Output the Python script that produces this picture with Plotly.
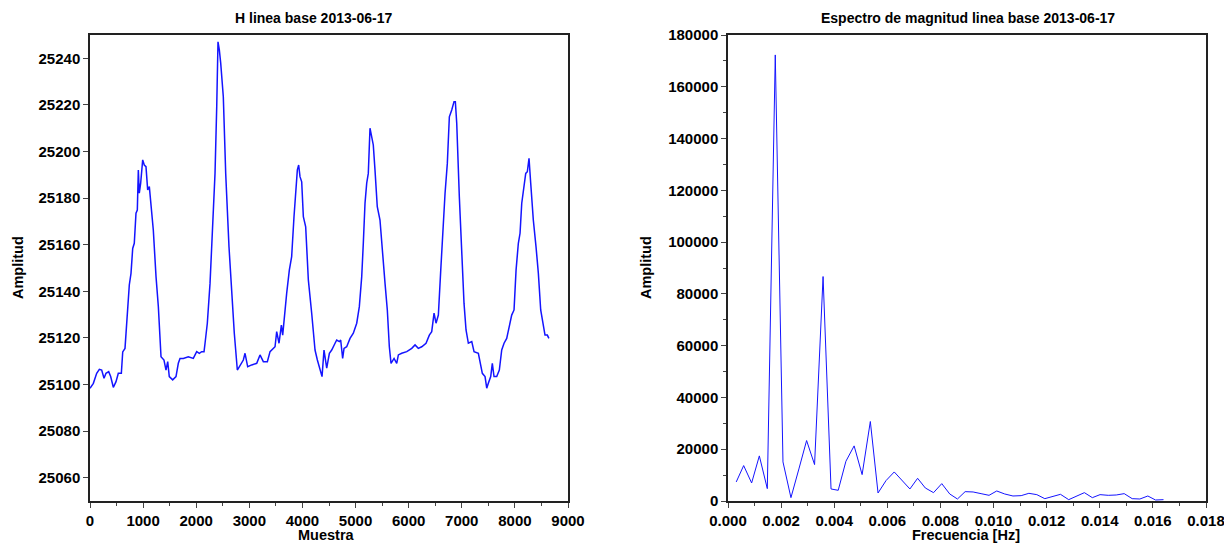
import plotly.graph_objects as go

# ---- Left panel: H baseline (sample vs amplitude) ----
muestra = [0, 63, 126, 176, 220, 264, 301, 352, 389, 439, 490, 533, 590, 616, 659, 691, 740, 772, 804, 834,
           866, 891, 910, 928, 954, 992, 1022, 1054, 1086, 1117, 1142, 1192, 1243, 1287, 1337, 1393, 1431, 1463,
           1493, 1557, 1619, 1663, 1695, 1757, 1851, 1945, 2009, 2058, 2103, 2147, 2166, 2209, 2260, 2310, 2354,
           2386, 2410, 2435, 2461, 2510, 2555, 2617, 2680, 2717, 2774, 2825, 2887, 2919, 2969, 3045, 3139, 3201,
           3264, 3339, 3390, 3484, 3515, 3559, 3603, 3628, 3659, 3703, 3753, 3797, 3841, 3879, 3904, 3929, 3954,
           3986, 4017, 4061, 4111, 4174, 4237, 4281, 4331, 4369, 4406, 4457, 4507, 4551, 4614, 4645, 4695, 4720,
           4757, 4783, 4833, 4896, 4958, 5022, 5071, 5116, 5146, 5178, 5210, 5240, 5272, 5304, 5334, 5366, 5409,
           5460, 5511, 5555, 5598, 5636, 5668, 5725, 5775, 5806, 5869, 5964, 6058, 6120, 6182, 6246, 6327, 6389,
           6434, 6478, 6515, 6559, 6604, 6642, 6685, 6728, 6766, 6811, 6854, 6879, 6905, 6954, 7004, 7042, 7080,
           7124, 7188, 7231, 7312, 7343, 7387, 7438, 7470, 7500, 7545, 7575, 7607, 7658, 7707, 7752, 7796, 7846,
           7896, 7940, 7984, 8022, 8065, 8097, 8129, 8172, 8204, 8234, 8266, 8298, 8347, 8398, 8442, 8486, 8524,
           8567, 8611, 8640]
amplitud_h = [25098.4, 25100.5, 25104.8, 25106.5, 25106.2, 25102.7, 25104.8, 25105.5, 25103.4, 25098.8, 25101.2,
              25104.8, 25104.8, 25114.0, 25115.5, 25127.7, 25142.7, 25147.7, 25158.4, 25160.6, 25173.5, 25174.9,
              25192.1, 25182.1, 25186.4, 25196.4, 25194.2, 25193.5, 25183.5, 25184.9, 25177.8, 25166.3, 25146.3,
              25133.4, 25111.9, 25110.5, 25106.2, 25109.8, 25103.4, 25102.0, 25103.4, 25109.1, 25111.2, 25111.2,
              25111.9, 25111.2, 25114.1, 25113.4, 25114.1, 25114.1, 25117.7, 25126.3, 25143.4, 25166.3, 25190.6,
              25219.2, 25247.1, 25243.6, 25237.9, 25223.5, 25190.6, 25159.1, 25133.4, 25122.0, 25106.2, 25108.4,
              25110.5, 25113.4, 25107.6, 25108.4, 25109.1, 25112.7, 25109.8, 25109.8, 25114.1, 25116.2, 25122.7,
              25117.7, 25125.5, 25121.2, 25129.8, 25139.1, 25149.1, 25154.9, 25172.0, 25183.5, 25192.1, 25194.2,
              25189.2, 25187.0, 25172.0, 25167.7, 25144.9, 25130.6, 25114.8, 25110.5, 25106.2, 25103.4, 25114.8,
              25107.0, 25113.4, 25114.8, 25117.7, 25119.1, 25118.4, 25119.1, 25111.2, 25115.5, 25116.2, 25119.8,
              25122.0, 25126.3, 25133.4, 25146.3, 25160.6, 25177.8, 25186.4, 25190.6, 25210.0, 25206.4, 25202.8,
              25192.1, 25176.3, 25170.6, 25157.7, 25143.4, 25132.0, 25116.2, 25109.1, 25111.2, 25109.1, 25112.7,
              25113.4, 25114.1, 25115.5, 25117.0, 25115.5, 25116.2, 25117.7, 25121.2, 25122.7, 25130.6, 25126.3,
              25129.8, 25149.1, 25166.3, 25182.1, 25194.9, 25214.9, 25217.8, 25221.4, 25221.4, 25212.1, 25180.6,
              25152.0, 25134.9, 25123.4, 25117.7, 25118.4, 25114.1, 25113.4, 25109.1, 25104.8, 25103.4, 25098.4,
              25100.5, 25103.4, 25109.1, 25103.4, 25103.4, 25106.2, 25114.8, 25117.7, 25119.8, 25124.8, 25129.8,
              25132.0, 25149.1, 25160.6, 25164.9, 25177.8, 25184.9, 25190.6, 25191.3, 25197.1, 25186.4, 25170.6,
              25159.1, 25147.7, 25132.0, 25126.3, 25121.2, 25121.2, 25119.8]

# ---- Right panel: magnitude spectrum ----
frecuencia = [0.00031, 0.00059, 0.00089, 0.00118, 0.00148, 0.00178, 0.00207, 0.00237, 0.00267, 0.00296,
              0.00326, 0.00358, 0.00388, 0.00415, 0.00444, 0.00475, 0.00505, 0.00536, 0.00565, 0.00595,
              0.00626, 0.00656, 0.00685, 0.00714, 0.00743, 0.00774, 0.00805, 0.00835, 0.00864, 0.00893,
              0.00923, 0.00953, 0.00983, 0.01012, 0.01042, 0.01073, 0.01104, 0.01133, 0.01163, 0.01193,
              0.01222, 0.01252, 0.01283, 0.01312, 0.01342, 0.01372, 0.01401, 0.01432, 0.01462, 0.01492,
              0.01522, 0.01551, 0.01581, 0.01610, 0.01640]
magnitud = [7355, 13677, 6968, 17419, 4774, 172300, 15097, 1290, 12387, 23355,
            14064, 86700, 4645, 4129, 15355, 21290, 10194, 30710, 3097, 7871,
            11226, 8000, 4645, 8774, 5032, 3226, 6710, 2710, 774, 3613,
            3484, 2839, 2194, 3871, 2710, 1935, 2065, 2968, 2452, 903,
            1806, 2581, 516, 1806, 3226, 1290, 2452, 2194, 2323, 2839,
            903, 774, 1935, 387, 516]

titulo_izq = "H linea base 2013-06-17"
titulo_der = "Espectro de magnitud linea base 2013-06-17"

# page body has an 8px margin at top/left; figure fills the rest of the 1232x549 window
OFF = 8
W, H = 1232 - OFF, 549 - OFF
FONT = "Liberation Sans, Arial, sans-serif"
BLUE = "rgb(20,20,255)"


def px(x):
    return (x - OFF) / W


def py(y):
    return 1 - (y - OFF) / H


fig = go.Figure()
fig.add_trace(go.Scatter(x=muestra, y=amplitud_h, mode="lines",
                         line=dict(color=BLUE, width=1.5), xaxis="x", yaxis="y", showlegend=False))
fig.add_trace(go.Scatter(x=frecuencia, y=magnitud, mode="lines",
                         line=dict(color=BLUE, width=1), xaxis="x2", yaxis="y2", showlegend=False))

ydom = [py(501), py(35)]
common = dict(showline=True, mirror=True, linecolor="#222", linewidth=1.5, ticks="outside",
              ticklen=5, tickwidth=1.3, tickcolor="#444", showgrid=False, zeroline=False,
              automargin=False,
              tickfont=dict(family=FONT, size=15, color="black", weight="bold"))

fig.update_layout(
    width=W, height=H, paper_bgcolor="white", plot_bgcolor="white",
    margin=dict(l=0, r=0, t=0, b=0),
    xaxis=dict(domain=[px(90), px(568)], range=[0, 9000], dtick=1000, tick0=0, anchor="y",
               tickformat="d",
               minor=dict(dtick=500, ticks="outside", ticklen=3, tickcolor="#444"), **common),
    yaxis=dict(domain=ydom, range=[25050, 25250], dtick=20, tick0=25040, anchor="x",
               tickformat="d", **common),
    xaxis2=dict(domain=[px(728), px(1206)], range=[0, 0.018], dtick=0.002, tick0=0, anchor="y2",
                tickformat=".3f",
                minor=dict(dtick=0.001, ticks="outside", ticklen=3, tickcolor="#444"), **common),
    yaxis2=dict(domain=ydom, range=[0, 180000], dtick=20000, tick0=0, anchor="x2",
                tickformat="d",
                minor=dict(dtick=10000, ticks="outside", ticklen=3, tickcolor="#444"), **common),
)

ann_font = dict(family=FONT, size=14, color="black", weight="bold")
lab_font = dict(family=FONT, size=14.5, color="black", weight="bold")
fig.add_annotation(text=titulo_izq, x=px(313), y=py(18), xref="paper", yref="paper",
                   showarrow=False, font=ann_font, xanchor="center", yanchor="middle")
fig.add_annotation(text=titulo_der, x=px(968), y=py(18), xref="paper", yref="paper",
                   showarrow=False, font=ann_font, xanchor="center", yanchor="middle")
fig.add_annotation(text="Muestra", x=px(326), y=py(535), xref="paper", yref="paper",
                   showarrow=False, font=lab_font, xanchor="center", yanchor="middle")
fig.add_annotation(text="Frecuencia [Hz]", x=px(966), y=py(535), xref="paper", yref="paper",
                   showarrow=False, font=lab_font, xanchor="center", yanchor="middle")
fig.add_annotation(text="Amplitud", x=px(18), y=py(268), xref="paper", yref="paper",
                   showarrow=False, font=lab_font, textangle=-90, xanchor="center", yanchor="middle")
fig.add_annotation(text="Amplitud", x=px(646), y=py(268), xref="paper", yref="paper",
                   showarrow=False, font=lab_font, textangle=-90, xanchor="center", yanchor="middle")

fig.write_html("out.html")
